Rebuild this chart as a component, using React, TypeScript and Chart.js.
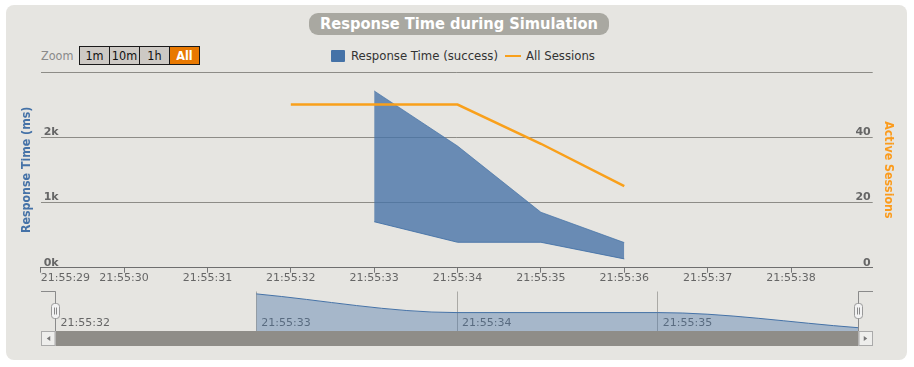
import React, { useEffect, useRef } from 'react';
import { Chart, registerables } from 'chart.js';

Chart.register(...registerables);

// ---- data ----
const rangeSeconds = [33, 34, 35, 36];
const responseHigh = [2710, 1865, 850, 385];
const responseLow = [705, 390, 390, 135];
const sessionSeconds = [32, 33, 34, 35, 36];
const activeSessions = [50, 50, 50, 38, 25];
const mainTickSeconds = [29, 30, 31, 32, 33, 34, 35, 36, 37, 38];
const mainTickLabels = ['21:55:29', '21:55:30', '21:55:31', '21:55:32', '21:55:33', '21:55:34', '21:55:35', '21:55:36', '21:55:37', '21:55:38'];
const navTickSeconds = [32, 33, 34, 35, 36];
const navTickLabels = ['21:55:32', '21:55:33', '21:55:34', '21:55:35', ''];
const zoomButtons = ['1m', '10m', '1h', 'All'];

const W = 914;
const H = 367;
const BLUE = '#4572A7';
const ORANGE = '#f9a01b';
const SANS = 'DejaVu Sans';
const COND = 'DejaVu Sans Condensed';

const X_MIN = 29;
const X_MAX = 38.98;

function navChromePlugin() {
  return {
    id: 'navChrome',
    afterDraw(chart: any) {
      const ctx = chart.ctx;
      const a = chart.chartArea;
      const L = 41, R = 873;
      const top = 291.5;
      ctx.save();
      // scrollbar track
      ctx.fillStyle = '#8f8d88';
      ctx.fillRect(L, a.bottom, R - L, 15);
      // buttons
      const btn = (x: number, w: number, dir: number) => {
        ctx.fillStyle = '#eeeeec';
        ctx.fillRect(x, a.bottom, w, 15);
        ctx.strokeStyle = '#aaaaaa';
        ctx.lineWidth = 1;
        ctx.strokeRect(x + 0.5, a.bottom + 0.5, w - 1, 14);
        const cx = x + w / 2;
        const cy = a.bottom + 7.5;
        ctx.fillStyle = '#777';
        ctx.beginPath();
        ctx.moveTo(cx + dir * 2, cy - 2.5);
        ctx.lineTo(cx + dir * 2, cy + 2.5);
        ctx.lineTo(cx - dir * 1.5, cy);
        ctx.closePath();
        ctx.fill();
      };
      btn(L, 14.5, 1);
      btn(a.right, R - a.right, -1);
      // outline
      ctx.strokeStyle = '#8a8a8a';
      ctx.lineWidth = 1;
      ctx.beginPath();
      ctx.moveTo(L, top);
      ctx.lineTo(a.left, top);
      ctx.lineTo(a.left, a.bottom);
      ctx.moveTo(a.right, a.bottom);
      ctx.lineTo(a.right, top);
      ctx.lineTo(R, top);
      ctx.stroke();
      // handles
      const handle = (x: number) => {
        const hx = Math.round(x) - 4.5;
        const hy = 303.5;
        ctx.fillStyle = '#f2f2f2';
        ctx.strokeStyle = '#999';
        ctx.beginPath();
        (ctx as any).roundRect(hx, hy, 8, 15, 3);
        ctx.fill();
        ctx.stroke();
        ctx.strokeStyle = '#888';
        ctx.beginPath();
        ctx.moveTo(hx + 3, hy + 4);
        ctx.lineTo(hx + 3, hy + 11);
        ctx.moveTo(hx + 5, hy + 4);
        ctx.lineTo(hx + 5, hy + 11);
        ctx.stroke();
      };
      handle(a.left);
      handle(a.right);
      ctx.restore();
    },
  };
}

export default function App() {
  const mainRef = useRef<HTMLCanvasElement>(null);
  const navRef = useRef<HTMLCanvasElement>(null);

  useEffect(() => {
    const main = new Chart(mainRef.current as HTMLCanvasElement, {
      type: 'line',
      data: {
        datasets: [
          {
            label: 'All Sessions',
            data: sessionSeconds.map((s, i) => ({ x: s, y: activeSessions[i] })),
            yAxisID: 'y1',
            borderColor: ORANGE,
            borderWidth: 2.5,
            pointRadius: 0,
            fill: false,
            order: 0,
          },
          {
            label: 'Response Time (success)',
            data: rangeSeconds.map((s, i) => ({ x: s, y: responseHigh[i] })),
            yAxisID: 'y',
            borderColor: 'rgba(69,114,167,0.7)',
            borderWidth: 1,
            backgroundColor: 'rgba(69,114,167,0.78)',
            pointRadius: 0,
            fill: '+1',
            order: 1,
          },
          {
            label: 'low',
            data: rangeSeconds.map((s, i) => ({ x: s, y: responseLow[i] })),
            yAxisID: 'y',
            borderColor: 'rgba(69,114,167,0.9)',
            borderWidth: 1,
            pointRadius: 0,
            fill: false,
            order: 1,
          },
        ],
      },
      options: {
        responsive: false,
        animation: false,
        devicePixelRatio: 1,
        layout: { padding: { left: 0, right: 0, top: 72, bottom: H - 267.7 } },
        plugins: { legend: { display: false }, tooltip: { enabled: false } },
        scales: {
          x: {
            type: 'linear',
            min: X_MIN,
            max: X_MAX,
            afterFit: (s: any) => { s.height = 0; s.paddingLeft = 0; s.paddingRight = 0; },
            afterBuildTicks: (s: any) => { s.ticks = [...mainTickSeconds, X_MAX].map((v) => ({ value: v })); },
            ticks: {
              autoSkip: false,
              maxRotation: 0,
              align: 'inner',
              mirror: true,
              padding: -17.4,
              color: '#666',
              font: { family: SANS, size: 11 },
              callback: (_v: any, i: number) => mainTickLabels[i] ?? '',
            },
            grid: {
              drawOnChartArea: false,
              drawTicks: true,
              tickLength: 5,
              tickColor: (c: any) => (c.index === mainTickSeconds.length ? 'rgba(0,0,0,0)' : '#777'),
            },
            border: { color: '#6e6e6e', width: 1 },
          },
          y: {
            position: 'left',
            min: 0,
            max: 3000,
            afterFit: (s: any) => { s.width = 40.7; },
            ticks: {
              stepSize: 1000,
              mirror: true,
              padding: 3,
              labelOffset: -5,
              color: '#666',
              font: { family: SANS, size: 11, weight: 'bold' },
              callback: (v: any) => (v === 3000 ? '' : `${v / 1000}k`),
            },
            grid: { color: '#8d8c87', drawTicks: false },
            border: { display: false },
            title: {
              display: true,
              text: 'Response Time (ms)',
              color: BLUE,
              font: { family: COND, size: 12.3, weight: 'bold' },
              padding: { top: 19.8, bottom: 0 },
            },
          },
          y1: {
            position: 'right',
            min: 0,
            max: 60,
            afterFit: (s: any) => { s.width = W - 872.7; },
            ticks: {
              stepSize: 20,
              mirror: true,
              padding: -2,
              labelOffset: -5,
              color: '#666',
              font: { family: SANS, size: 11, weight: 'bold' },
              callback: (v: any) => (v === 60 ? '' : `${v}`),
            },
            grid: { display: false },
            border: { display: false },
            title: {
              display: true,
              text: 'Active Sessions',
              color: '#fb9b1c',
              font: { family: COND, size: 12.3, weight: 'bold' },
              padding: { top: 18.8, bottom: 0 },
            },
          },
        },
      },
    } as any);

    const nav = new Chart(navRef.current as HTMLCanvasElement, {
      type: 'line',
      data: {
        datasets: [
          {
            data: rangeSeconds.map((s, i) => ({ x: s, y: responseLow[i] })),
            borderColor: BLUE,
            borderWidth: 1,
            backgroundColor: 'rgba(69,114,167,0.4)',
            fill: 'start',
            pointRadius: 0,
            cubicInterpolationMode: 'monotone',
          },
        ],
      },
      options: {
        responsive: false,
        animation: false,
        devicePixelRatio: 1,
        layout: { padding: { left: 55.5, right: W - 858.5, top: 291.5, bottom: H - 331 } },
        plugins: { legend: { display: false }, tooltip: { enabled: false } },
        scales: {
          x: {
            type: 'linear',
            min: 32,
            max: 36,
            afterFit: (s: any) => { s.height = 0; s.paddingLeft = 0; s.paddingRight = 0; },
            afterBuildTicks: (s: any) => { s.ticks = navTickSeconds.map((v) => ({ value: v })); },
            ticks: {
              autoSkip: false,
              maxRotation: 0,
              align: 'start',
              mirror: true,
              padding: 1,
              labelOffset: 5,
              color: '#666',
              font: { family: SANS, size: 11 },
              callback: (_v: any, i: number) => navTickLabels[i] ?? '',
            },
            grid: { color: '#aaa9a5', drawTicks: false },
            border: { display: false },
          },
          y: { display: false, min: 80, max: 745 },
        },
      },
      plugins: [navChromePlugin()],
    } as any);

    return () => {
      main.destroy();
      nav.destroy();
    };
  }, []);

  const abs = (s: React.CSSProperties): React.CSSProperties => ({ position: 'absolute', ...s });

  return (
    <div style={abs({ left: 0, top: 0, width: W, height: H, background: '#ffffff', overflow: 'hidden' })}>
      <div style={abs({ left: 6, top: 5, width: 901, height: 355, background: '#e6e5e1', borderRadius: 8 })} />
      <div
        style={abs({
          left: 309, top: 13, width: 300, height: 22, background: '#a9a8a1', borderRadius: 9,
          color: '#fff', fontFamily: COND, fontWeight: 'bold', fontSize: 16.3, lineHeight: '22px', textAlign: 'center',
        })}
      >
        Response Time during Simulation
      </div>
      <div style={abs({ left: 41, top: 47, height: 18, lineHeight: '18px', fontFamily: COND, fontSize: 12.5, color: '#8a8a8a' })}>Zoom</div>
      <div style={abs({ left: 79, top: 46, display: 'flex' })}>
        {zoomButtons.map((b, i) => (
          <div
            key={b}
            style={{
              width: 29, height: 17, lineHeight: '17px', textAlign: 'center',
              border: '1px solid #1a1a1a', marginLeft: i === 0 ? 0 : -1, boxSizing: 'content-box',
              background: b === 'All' ? '#e87800' : '#cdc9c4', color: b === 'All' ? '#fff' : '#111',
              fontFamily: COND, fontSize: 12.5, fontWeight: b === 'All' ? 'bold' : 'normal',
            }}
          >
            {b}
          </div>
        ))}
      </div>
      <div style={abs({ left: 331, top: 50, width: 14, height: 12, background: BLUE, borderRadius: 1 })} />
      <div style={abs({ left: 351, top: 47, height: 18, lineHeight: '18px', fontFamily: COND, fontSize: 13, color: '#333', whiteSpace: 'nowrap' })}>
        Response Time (success)
      </div>
      <div style={abs({ left: 505, top: 55, width: 16, height: 2, background: ORANGE })} />
      <div style={abs({ left: 526, top: 47, height: 18, lineHeight: '18px', fontFamily: COND, fontSize: 13, color: '#333', whiteSpace: 'nowrap' })}>
        All Sessions
      </div>
      <canvas ref={mainRef} width={W} height={H} style={abs({ left: 0, top: 0, width: W, height: H })} />
      <canvas ref={navRef} width={W} height={H} style={abs({ left: 0, top: 0, width: W, height: H })} />
    </div>
  );
}
